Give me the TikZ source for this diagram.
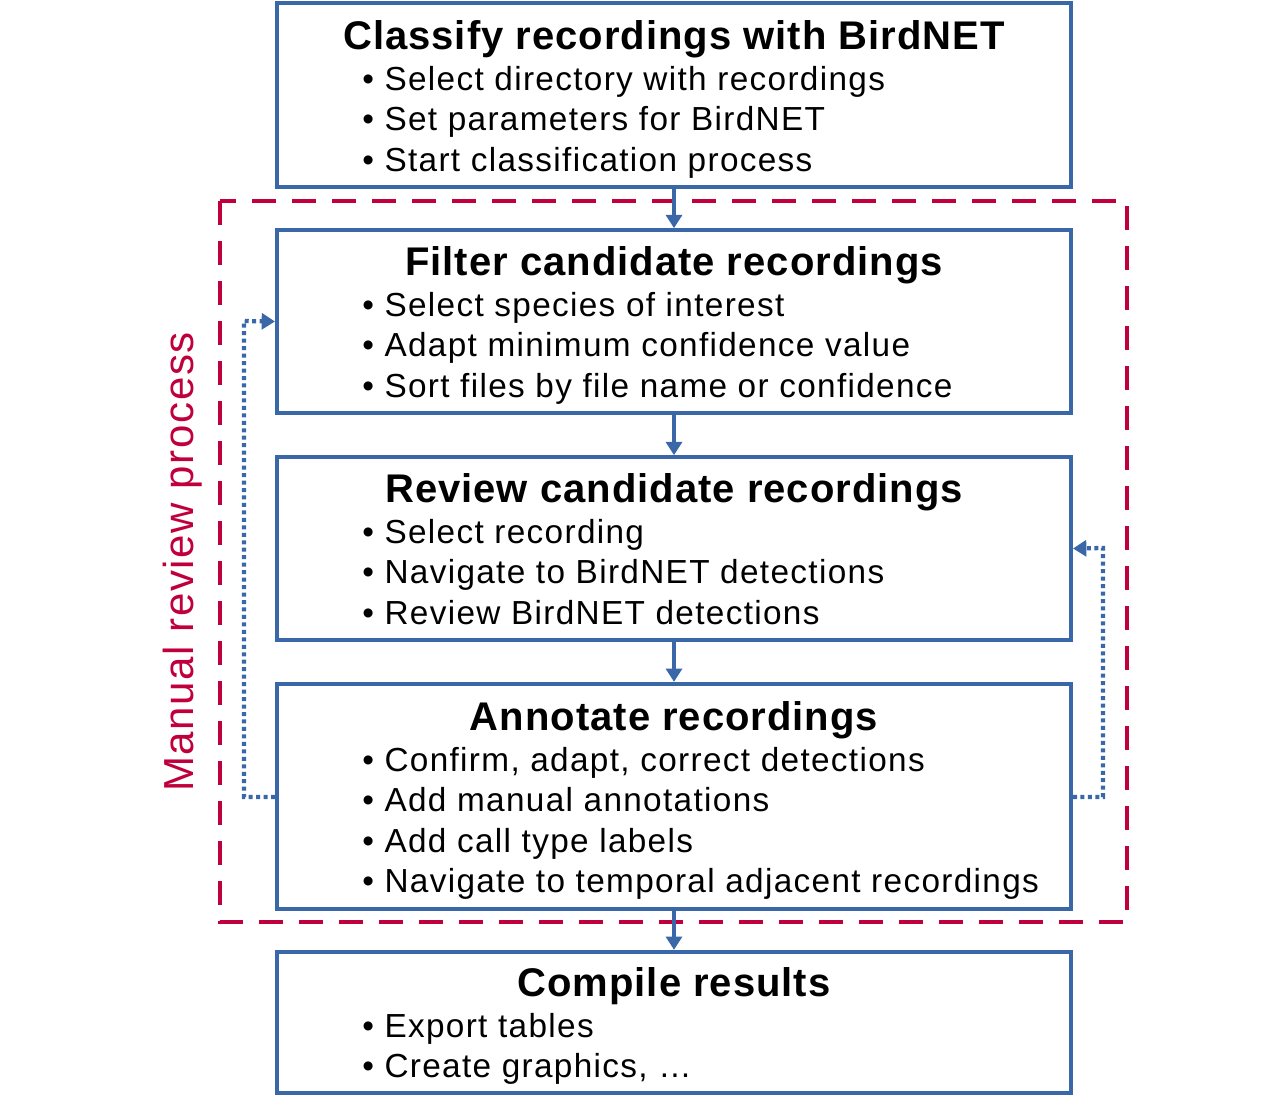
\documentclass[tikz,border=0pt]{standalone}
\usepackage{fontspec}
\setmainfont{Liberation Sans}
\newfontfamily\itmfont[LetterSpace=4]{Liberation Sans}
\newfontfamily\ttlfont[LetterSpace=2.5]{Liberation Sans}
\usetikzlibrary{arrows.meta}
\definecolor{bblue}{HTML}{3A67A8}
\definecolor{rred}{HTML}{C0003C}
\begin{document}
\begin{tikzpicture}[x=0.75pt,y=-0.75pt,
  box/.style={draw=bblue,line width=3pt},
  ttl/.style={anchor=base,font=\ttlfont\fontsize{30}{30}\selectfont\bfseries,inner sep=0pt},
  itm/.style={anchor=base west,font=\itmfont\fontsize{25}{30}\selectfont,inner sep=0pt},
  flow/.style={draw=bblue,line width=3.2pt,-{Triangle[length=10pt,width=12pt]}},
  fb/.style={draw=bblue,line width=3.2pt,dash pattern=on 3pt off 2.6pt,-{Triangle[length=10pt,width=12pt]}}]
\useasboundingbox (0,0) rectangle (1277,1097);
\draw[rred,line width=3pt,dash pattern=on 18pt off 12pt] (220,201) rectangle (1127,922);
\node[rotate=90,text=rred,font=\itmfont\fontsize{31.5}{31.5}\selectfont,inner sep=0pt] (mr) at (183,562) {Manual review process};
\node[box,minimum width=595.5pt,minimum height=138pt,inner sep=0pt] (b1) at (674,95) {};
\node[box,minimum width=595.5pt,minimum height=137pt,inner sep=0pt] (b2) at (674,321.5) {};
\node[box,minimum width=595.5pt,minimum height=137pt,inner sep=0pt] (b3) at (674,548.5) {};
\node[box,minimum width=595.5pt,minimum height=169pt,inner sep=0pt] (b4) at (674,796.5) {};
\node[box,minimum width=595.5pt,minimum height=106pt,inner sep=0pt] (b5) at (674,1022.5) {};
% texts
\node[ttl] (t1) at (674,49) {Classify recordings with BirdNET};
\node[itm] (i11) at (362,90) {• Select directory with recordings};
\node[itm] (i12) at (362,130.5) {• Set parameters for BirdNET};
\node[itm] (i13) at (362,171) {• Start classification process};
\node[ttl] (t2) at (674,275) {Filter candidate recordings};
\node[itm] (i21) at (362,316) {• Select species of interest};
\node[itm] (i22) at (362,356.5) {• Adapt minimum confidence value};
\node[itm] (i23) at (362,397) {• Sort files by file name or confidence};
\node[ttl] (t3) at (674,502) {Review candidate recordings};
\node[itm] (i31) at (362,543) {• Select recording};
\node[itm] (i32) at (362,583.5) {• Navigate to BirdNET detections};
\node[itm] (i33) at (362,624) {• Review BirdNET detections};
\node[ttl] (t4) at (674,730) {Annotate recordings};
\node[itm] (i41) at (362,771) {• Confirm, adapt, correct detections};
\node[itm] (i42) at (362,811.5) {• Add manual annotations};
\node[itm] (i43) at (362,852) {• Add call type labels};
\node[itm] (i44) at (362,892.5) {• Navigate to temporal adjacent recordings};
\node[ttl] (t5) at (674,996) {Compile results};
\node[itm] (i51) at (362,1037) {• Export tables};
\node[itm] (i52) at (362,1077.5) {• Create graphics, …};
% arrows
\draw[flow] (b1.south) -- (b2.north);
\draw[flow] (b2.south) -- (b3.north);
\draw[flow] (b3.south) -- (b4.north);
\draw[flow] (b4.south) -- (b5.north);
\draw[fb] (b4.west |- 0,797) -- (244,797) -- (244,321) -- (b2.west);
\draw[fb] (b4.east |- 0,797) -- (1103,797) -- (1103,548) -- (b3.east);
\end{tikzpicture}
\end{document}
